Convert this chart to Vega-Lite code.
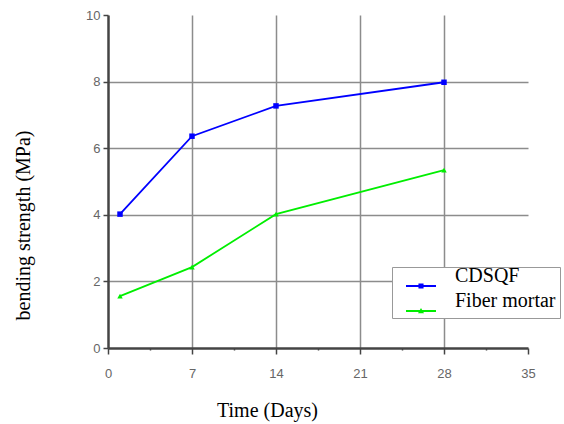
{
  "$schema": "https://vega.github.io/schema/vega-lite/v6.json",
  "autosize": {"type": "none"},
  "width": 420,
  "height": 333,
  "padding": {"left": 108, "top": 15, "right": 36, "bottom": 76},
  "background": "white",
  "config": {"view": {"stroke": null}},
  "data": {
    "values": [
      {"day": 1, "strength": 4.02, "series": "CDSQF"},
      {"day": 7, "strength": 6.36, "series": "CDSQF"},
      {"day": 14, "strength": 7.27, "series": "CDSQF"},
      {"day": 28, "strength": 7.98, "series": "CDSQF"},
      {"day": 1, "strength": 1.56, "series": "Fiber mortar"},
      {"day": 7, "strength": 2.43, "series": "Fiber mortar"},
      {"day": 14, "strength": 4.02, "series": "Fiber mortar"},
      {"day": 28, "strength": 5.34, "series": "Fiber mortar"}
    ]
  },
  "encoding": {
    "x": {
      "field": "day",
      "type": "quantitative",
      "scale": {"domain": [0, 35], "nice": false, "zero": false},
      "axis": {
        "values": [0, 3.5, 7, 10.5, 14, 17.5, 21, 24.5, 28, 31.5, 35],
        "labelExpr": "datum.value % 7 === 0 ? datum.label : ''",
        "labelFont": "Liberation Sans",
        "labelFontSize": 13,
        "labelColor": "#666666",
        "labelPadding": 13,
        "labelFlush": false,
        "labelOverlap": false,
        "domainColor": "#444444",
        "domainWidth": 2.5,
        "tickColor": "#444444",
        "tickWidth": 1.5,
        "tickSize": {"condition": {"test": "datum.value % 7 === 0", "value": 6}, "value": 2},
        "grid": true,
        "gridColor": "#8c8c8c",
        "gridWidth": 1.5,
        "gridOpacity": {"condition": {"test": "datum.value % 7 === 0 && datum.value > 0 && datum.value < 35", "value": 1}, "value": 0},
        "title": "Time (Days)",
        "titleFont": "Liberation Serif",
        "titleFontSize": 20,
        "titleFontWeight": "normal",
        "titleColor": "black",
        "titleAlign": "center",
        "titleBaseline": "alphabetic",
        "titleX": 159,
        "titleY": 68
      }
    },
    "y": {
      "field": "strength",
      "type": "quantitative",
      "scale": {"domain": [0, 10], "nice": false},
      "axis": {
        "values": [0, 1, 2, 3, 4, 5, 6, 7, 8, 9, 10],
        "labelExpr": "datum.value % 2 === 0 ? datum.label : ''",
        "labelFont": "Liberation Sans",
        "labelFontSize": 13,
        "labelColor": "#666666",
        "labelPadding": 3,
        "labelOverlap": false,
        "domainColor": "#444444",
        "domainWidth": 2.5,
        "tickColor": "#444444",
        "tickWidth": 1.5,
        "tickSize": {"condition": {"test": "datum.value % 2 === 0", "value": 5}, "value": 0},
        "grid": true,
        "gridColor": "#8c8c8c",
        "gridWidth": 1.5,
        "gridOpacity": {"condition": {"test": "datum.value % 2 === 0 && datum.value > 0 && datum.value < 10", "value": 1}, "value": 0},
        "title": "bending strength (MPa)",
        "titleFont": "Liberation Serif",
        "titleFontSize": 20,
        "titleFontWeight": "normal",
        "titleColor": "black",
        "titleAlign": "center",
        "titleBaseline": "alphabetic",
        "titleX": -79,
        "titleY": 210
      }
    },
    "color": {
      "field": "series",
      "type": "nominal",
      "scale": {"domain": ["CDSQF", "Fiber mortar"], "range": ["#0000ff", "#00ee00"]},
      "legend": {
        "title": null,
        "orient": "none",
        "legendX": 284,
        "legendY": 252,
        "padding": 4,
        "fillColor": "white",
        "strokeColor": "#999999",
        "labelFont": "Liberation Serif",
        "labelFontSize": 20,
        "labelColor": "black",
        "labelBaseline": "bottom",
        "labelOffset": 19,
        "symbolOffset": 10,
        "symbolSize": 900,
        "encode": {
          "symbols": {
            "update": {
              "shape": {"signal": "datum.value === 'CDSQF' ? 'M-1,-0.06H1V0.06H-1Z M-0.17,-0.17H0.17V0.17H-0.17Z' : 'M-1,-0.06H1V0.06H-1Z M0,-0.2L0.2,0.15H-0.2Z'"},
              "fill": {"signal": "datum.value === 'CDSQF' ? '#0000ff' : '#00ee00'"},
              "fillOpacity": {"value": 1},
              "strokeWidth": {"value": 0},
              "size": {"value": 900}
            }
          }
        }
      }
    }
  },
  "layer": [
    {"mark": {"type": "line", "strokeWidth": 1.8}},
    {
      "transform": [{"filter": "datum.series === 'CDSQF'"}],
      "mark": {"type": "point", "filled": true, "opacity": 1, "size": 30, "shape": "square"}
    },
    {
      "transform": [{"filter": "datum.series === 'Fiber mortar'"}],
      "mark": {"type": "point", "filled": true, "opacity": 1, "size": 30, "shape": "triangle-up"}
    }
  ]
}
